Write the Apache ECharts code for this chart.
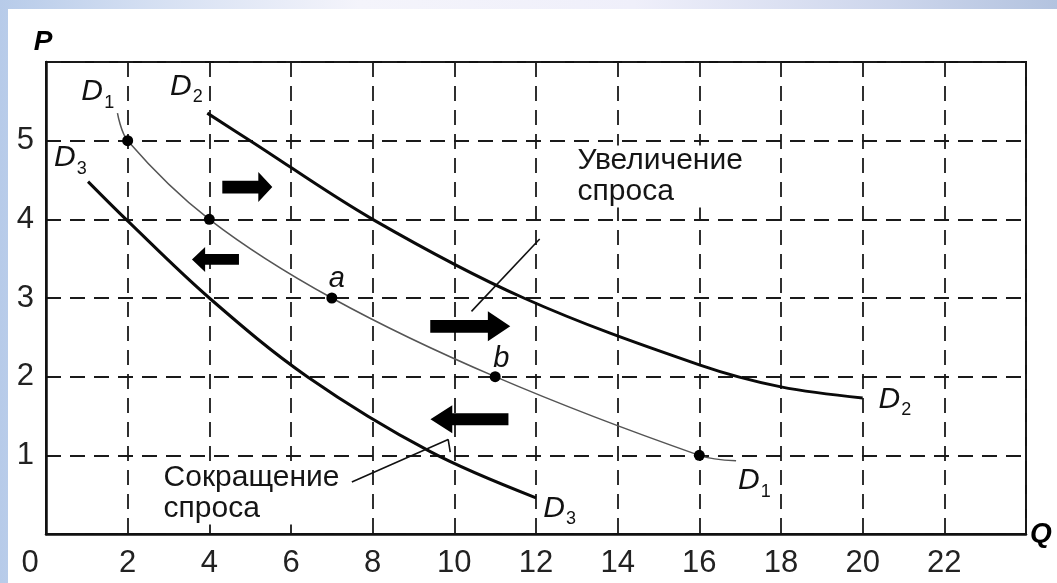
<!DOCTYPE html>
<html><head><meta charset="utf-8">
<script src="https://cdn.jsdelivr.net/npm/echarts@6/dist/echarts.min.js"></script>
<style>
html,body{margin:0;padding:0;width:1057px;height:583px;overflow:hidden;}
body{background:linear-gradient(to right,#b7cbe9 0%,#d4dff2 14%,#f4f4fb 34%,#efeffa 60%,#cdd6ec 84%,#b3c3df 100%);}
#bg{position:absolute;left:8px;top:9px;right:0;bottom:0;background:#ffffff;}
#chart{position:absolute;left:0;top:0;width:1057px;height:583px;}
</style></head>
<body>
<div id="bg"></div>
<div id="chart"></div>
<script>
// ---- data ----
const xTickLabels = ['0','2','4','6','8','10','12','14','16','18','20','22',''];
const yTickLabels = ['','1','2','3','4','5',''];
const curveD1 = [[1.75,5.35],[2,5],[4,4],[7,3],[11,2],[16,1],[16.9,0.93]];
const curveD2 = [[3.95,5.35],[5,5],[8,4],[11.7,3],[16,2.15],[18,1.87],[20,1.73]];
const curveD3 = [[1.03,4.48],[2,3.98],[4,3],[6.4,2],[9.4,1.05],[12,0.46]];
const pointsD1 = [[2,5],[4,4],[7,3],[11,2],[16,1]];
const pointLetters = [[7.12,3.24,'a'],[11.15,2.23,'b']];
const curveLabels = [[1.13,5.62,'1'],[3.30,5.69,'2'],[0.46,4.78,'3'],[20.65,1.71,'2'],[17.21,0.675,'1'],[12.44,0.325,'3']];
const arrowsRight = [[4.93,4.41],[10.39,2.64]];
const arrowsLeft = [[4.15,3.49],[10.37,1.46]];
const leaderIncrease = [[12.09,3.75],[10.42,2.83]];
const leaderDecrease = [[7.49,0.66],[9.85,1.20],[9.9,1.04]];
const noteIncrease = [[12.97,4.94,'Увеличение\nспроса']];
const noteDecrease = [[2.83,0.91,'Сокращение\nспроса']];

const FONT = '"Liberation Sans", Arial, sans-serif';
const arrowPath = 'path://M0,8L72,8L72,0L100,14L72,28L72,20L0,20Z';

const chart = echarts.init(document.getElementById('chart'), null, {renderer:'canvas'});
chart.setOption({
  animation:false,
  backgroundColor:'transparent',
  grid:{left:46, top:62, right:31, bottom:49, show:true, borderColor:'#111', borderWidth:2, backgroundColor:'transparent'},
  xAxis:{
    type:'value', min:0, max:24, interval:2,
    name:'Q', nameLocation:'end', nameGap:4,
    nameTextStyle:{fontFamily:FONT, fontSize:28, fontWeight:'bold', fontStyle:'italic', color:'#000', verticalAlign:'middle', padding:[6,0,0,0]},
    axisLine:{show:true, lineStyle:{color:'#111', width:2.5}},
    axisTick:{show:false},
    splitLine:{show:true, lineStyle:{color:'#1a1a1a', width:1.8, type:[15,9]}},
    axisLabel:{
      margin:14, fontFamily:FONT, fontSize:31, color:'#222',
      formatter:(v)=>{const t=xTickLabels[Math.round(v/2)]||''; return v===0?'{z|'+t+'}':t;},
      rich:{z:{fontFamily:FONT, fontSize:31, color:'#222', padding:[0,32,0,0]}}
    }
  },
  yAxis:{
    type:'value', min:0, max:6, interval:1,
    name:'P', nameLocation:'end', nameGap:6,
    nameTextStyle:{fontFamily:FONT, fontSize:28, fontWeight:'bold', fontStyle:'italic', color:'#000', align:'center', padding:[0,6,0,0]},
    axisLine:{show:true, lineStyle:{color:'#111', width:2.5}},
    axisTick:{show:false},
    splitLine:{show:true, lineStyle:{color:'#1a1a1a', width:1.8, type:[15,9]}},
    axisLabel:{margin:12, fontFamily:FONT, fontSize:31, color:'#222',
      formatter:(v)=>yTickLabels[Math.round(v)]||''}
  },
  series:[
    {type:'line', data:curveD1, smooth:0.35, showSymbol:false, lineStyle:{color:'#555', width:1.5}, z:3},
    {type:'line', data:curveD2, smooth:0.35, showSymbol:false, lineStyle:{color:'#0a0a0a', width:3}, z:3},
    {type:'line', data:curveD3, smooth:0.35, showSymbol:false, lineStyle:{color:'#0a0a0a', width:3}, z:3},
    {type:'line', data:leaderIncrease, showSymbol:false, lineStyle:{color:'#111', width:1.6}, z:3},
    {type:'line', data:leaderDecrease, showSymbol:false, lineStyle:{color:'#111', width:1.6}, z:3},
    {type:'scatter', data:pointsD1, symbol:'circle', symbolSize:11, itemStyle:{color:'#000', opacity:1}, z:5},
    {type:'scatter', data:arrowsRight, symbol:arrowPath, symbolKeepAspect:false,
      symbolSize:(v,p)=>p.dataIndex===0?[50,30]:[80,30], itemStyle:{color:'#000', opacity:1}, z:6},
    {type:'scatter', data:arrowsLeft, symbol:arrowPath, symbolKeepAspect:false, symbolRotate:180,
      symbolSize:(v,p)=>p.dataIndex===0?[47,25]:[78,28], itemStyle:{color:'#000', opacity:1}, z:6},
    // curve names: letter D
    {type:'scatter', data:curveLabels, symbolSize:0, clip:false, z:7, itemStyle:{opacity:1},
      label:{show:true, position:'inside', formatter:()=> 'D', fontFamily:FONT, fontSize:30, lineHeight:30, fontStyle:'italic', color:'#111'}},
    // curve names: subscripts
    {type:'scatter', data:curveLabels, symbolSize:0, clip:false, z:7, itemStyle:{opacity:1},
      label:{show:true, position:'inside', offset:[17,11], formatter:(p)=>p.value[2], fontFamily:FONT, fontSize:18, lineHeight:18, color:'#111'}},
    {type:'scatter', data:pointLetters, symbolSize:0, clip:false, z:7, itemStyle:{opacity:1},
      label:{show:true, position:'inside', formatter:(p)=>p.value[2], fontFamily:FONT, fontSize:29, fontStyle:'italic', color:'#111'}},
    {type:'scatter', data:noteIncrease.concat(noteDecrease), symbolSize:0, clip:false, z:7, itemStyle:{opacity:1},
      label:{show:true, position:'inside', align:'left', verticalAlign:'top', formatter:(p)=>p.value[2],
        fontFamily:FONT, fontSize:30, lineHeight:31, color:'#151515', backgroundColor:'#ffffff', padding:[0,2,0,2]}}
  ]
});
</script>
</body></html>
